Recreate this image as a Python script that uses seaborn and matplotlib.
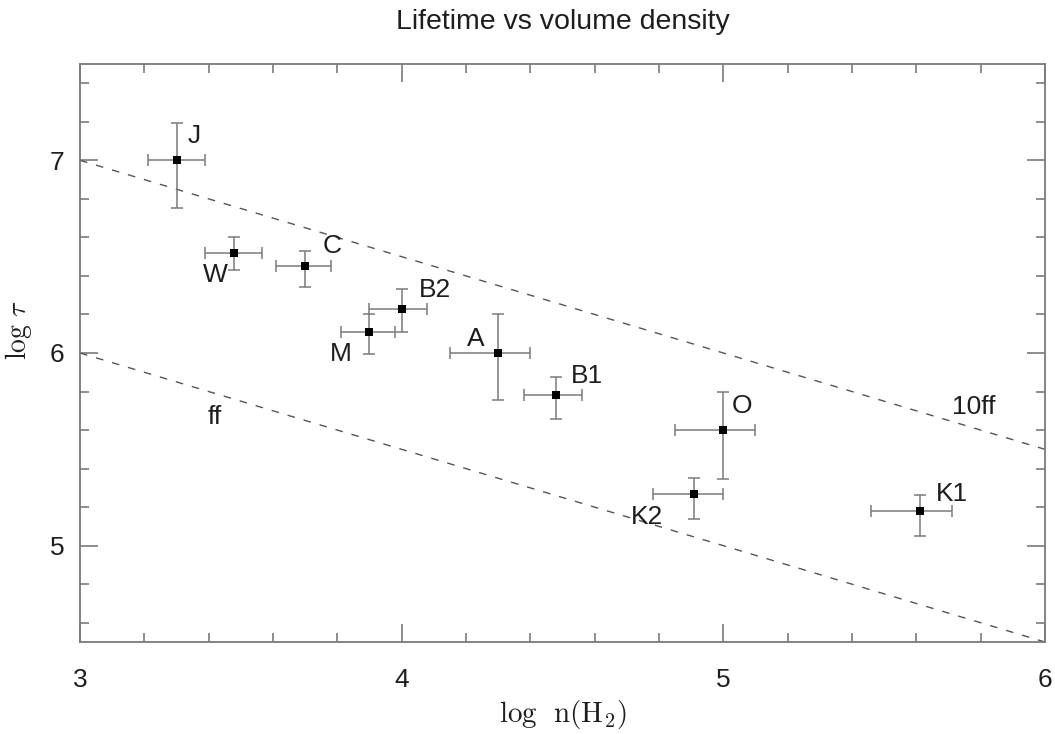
import matplotlib
matplotlib.use("Agg")
import matplotlib.pyplot as plt
import seaborn as sns
import numpy as np
import pandas as pd

# ---- data ----
names = ["J", "W", "C", "B2", "M", "A", "B1", "O", "K2", "K1"]
log_n = [3.30, 3.48, 3.70, 4.00, 3.90, 4.30, 4.48, 5.00, 4.91, 5.61]
log_tau = [7.00, 6.52, 6.45, 6.23, 6.11, 6.00, 5.78, 5.60, 5.27, 5.18]
xerr_lo = [0.09, 0.09, 0.09, 0.10, 0.09, 0.15, 0.10, 0.15, 0.13, 0.15]
xerr_hi = [0.09, 0.085, 0.08, 0.08, 0.08, 0.10, 0.08, 0.10, 0.09, 0.10]
yerr_lo = [0.245, 0.09, 0.11, 0.12, 0.115, 0.245, 0.125, 0.255, 0.13, 0.13]
yerr_hi = [0.195, 0.08, 0.08, 0.10, 0.09, 0.205, 0.095, 0.20, 0.08, 0.085]

# reference lines: log tau = a - 0.5 (log n - 3)
line_x = [3.0, 6.0]
ff_y = [6.0, 4.5]
tenff_y = [7.0, 5.5]
line_names = ["ff", "10ff"]
line_label_pos = [(3.42, 5.67), (5.78, 5.72)]

# label offsets (pixels) from each point
label_dx = [18, -19, 27, 33, -29, -22, 31, 19, -47, 32]
label_dy = [24, -22, 20, 19, -22, 14, 19, 24, -23, 17]

# ---- figure ----
sns.set_theme(style="ticks")
plt.rcParams["font.family"] = ["Liberation Sans", "DejaVu Sans"]
plt.rcParams["mathtext.fontset"] = "cm"

fig = plt.figure(figsize=(10.55, 7.34), dpi=100)
ax = fig.add_axes([80/1055, 92/734, 965/1055, 578/734])

gray = "#7a7a7a"
txt = "#1e1e1e"
df = pd.DataFrame({"x": log_n, "y": log_tau, "name": names})

# dashed lines
for ys in (ff_y, tenff_y):
    sns.lineplot(x=line_x, y=ys, ax=ax, color="#555555", lw=1.0,
                 linestyle=(0, (5.5, 6.5)))

ax.errorbar(log_n, log_tau,
            xerr=[xerr_lo, xerr_hi], yerr=[yerr_lo, yerr_hi],
            fmt="none", ecolor=gray, elinewidth=1.1, capsize=4, capthick=1.1)
sns.scatterplot(data=df, x="x", y="y", ax=ax, marker="s", s=38,
                color="black", edgecolor="black", linewidth=0, zorder=5)

for nm, x, y, dx, dy in zip(names, log_n, log_tau, label_dx, label_dy):
    ax.annotate(nm, (x, y), xytext=(dx, dy), textcoords="offset pixels",
                ha="center", va="center", fontsize=19, color=txt)
for nm, (tx, ty) in zip(line_names, line_label_pos):
    ax.text(tx, ty, nm, ha="center", va="center", fontsize=19, color=txt)

ax.set_xlim(3, 6)
ax.set_ylim(4.5, 7.5)
ax.set_xticks([3, 4, 5, 6])
ax.set_yticks([5, 6, 7])
ax.set_xticks(np.arange(3, 6.01, 0.2), minor=True)
ax.set_yticks(np.arange(4.6, 7.5, 0.2), minor=True)
ax.tick_params(which="both", direction="in", top=True, right=True,
               color=gray, width=1.2, labelsize=19, labelcolor=txt)
ax.tick_params(axis="x", which="major", pad=19)
ax.tick_params(axis="y", which="major", pad=11)
ax.tick_params(which="major", length=13)
ax.tick_params(which="minor", length=6.5)
for s in ax.spines.values():
    s.set_color(gray)
    s.set_linewidth(1.3)

ax.set_xlabel(r"$\mathrm{log\ \ n(H_2)}$", fontsize=21, color=txt, labelpad=4)
ax.set_ylabel(r"$\mathrm{log}\ \tau$", fontsize=20, color=txt)
ax.yaxis.set_label_coords(-0.048, 0.54)
ax.set_title("Lifetime vs volume density", fontsize=20.5, color=txt, pad=25)

fig.savefig("out.png", dpi=100)
